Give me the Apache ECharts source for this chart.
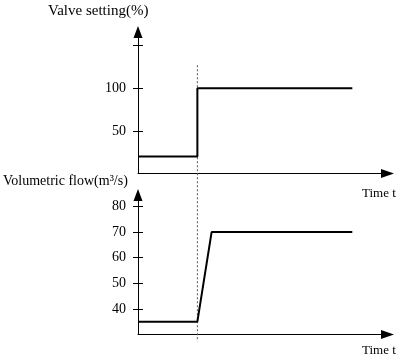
<!DOCTYPE html>
<html><head><meta charset="utf-8">
<script src="https://cdn.jsdelivr.net/npm/echarts@6/dist/echarts.min.js"></script>
<style>html,body{margin:0;padding:0;background:#fff}#c{width:401px;height:362px}</style>
</head><body><div id="c"></div>
<script>
const valveTime = [0, 2.38, 2.38, 8.59];
const valveValue = [20, 20, 100, 100];
const flowTime = [0, 2.38, 2.95, 8.59];
const flowValue = [35, 35, 70, 70];
const markerTime = [2.38, 2.38];
const markerValue = [127, -197];
const valveTicks = [50, 100, 150];
const valveLabels = [50, 100];
const flowTicks = [40, 50, 60, 70, 80];
const flowLabels = [40, 50, 60, 70, 80];

const zip = (a, b) => a.map((v, i) => [v, b[i]]);
const black = '#000';
const font = 'Liberation Serif';

function xAx(g) {
  return {
    gridIndex: g, type: 'value', min: 0, max: 10,
    axisLine: { show: true, onZero: false, symbol: ['none', 'triangle'], symbolSize: [9, 13], lineStyle: { color: black, width: 1 } },
    axisTick: { show: false }, axisLabel: { show: false }, splitLine: { show: false }
  };
}
function yAx(g, min, max, ticks, labels) {
  return {
    gridIndex: g, type: 'value', min: min, max: max, position: 'left',
    axisLine: { show: true, onZero: false, symbol: ['none', 'triangle'], symbolSize: [9, 12], lineStyle: { color: black, width: 1 } },
    axisTick: { show: true, length: 5, customValues: ticks, lineStyle: { color: black, width: 1 } },
    axisLabel: { customValues: labels, margin: 12, fontSize: 14, color: black, fontFamily: font },
    splitLine: { show: false }
  };
}
function yIn(g, min, max, ticks) {
  return {
    gridIndex: g, type: 'value', min: min, max: max, position: 'left',
    axisLine: { show: false },
    axisTick: { show: true, inside: true, length: 5, customValues: ticks, lineStyle: { color: black, width: 1 } },
    axisLabel: { show: false }, splitLine: { show: false }
  };
}
const ts = (size) => ({ fontSize: size, fontWeight: 'normal', fontFamily: font, color: black });

const chart = echarts.init(document.getElementById('c'), null, { renderer: 'canvas' });
chart.setOption({
  backgroundColor: '#fff',
  animation: false,
  textStyle: { fontFamily: font },
  title: [
    { text: 'Valve setting(%)', left: 48, top: 4, padding: 0, textStyle: ts(15) },
    { text: 'Volumetric flow(m³/s)', left: 3, top: 174, padding: 0, textStyle: ts(14) },
    { text: 'Time t', left: 362, top: 187, padding: 0, textStyle: ts(13) },
    { text: 'Time t', left: 362, top: 344, padding: 0, textStyle: ts(13) }
  ],
  grid: [
    { left: 138, top: 32, width: 249.5, height: 141.5 },
    { left: 138, top: 195, width: 249.5, height: 139.5 }
  ],
  xAxis: [xAx(0), xAx(1)],
  yAxis: [
    yAx(0, 0, 166, valveTicks, valveLabels),
    yIn(0, 0, 166, valveTicks),
    yAx(1, 30, 84.5, flowTicks, flowLabels),
    yIn(1, 30, 84.5, flowTicks)
  ],
  series: [
    { type: 'line', xAxisIndex: 0, yAxisIndex: 0, data: zip(markerTime, markerValue), symbol: 'none', clip: false, z: 1,
      lineStyle: { color: '#555', width: 1, type: [2, 2] } },
    { type: 'line', xAxisIndex: 0, yAxisIndex: 0, data: zip(valveTime, valveValue), symbol: 'none', z: 3,
      lineStyle: { color: black, width: 2 } },
    { type: 'line', xAxisIndex: 1, yAxisIndex: 2, data: zip(flowTime, flowValue), symbol: 'none', z: 3,
      lineStyle: { color: black, width: 2 } }
  ]
});
</script></body></html>
